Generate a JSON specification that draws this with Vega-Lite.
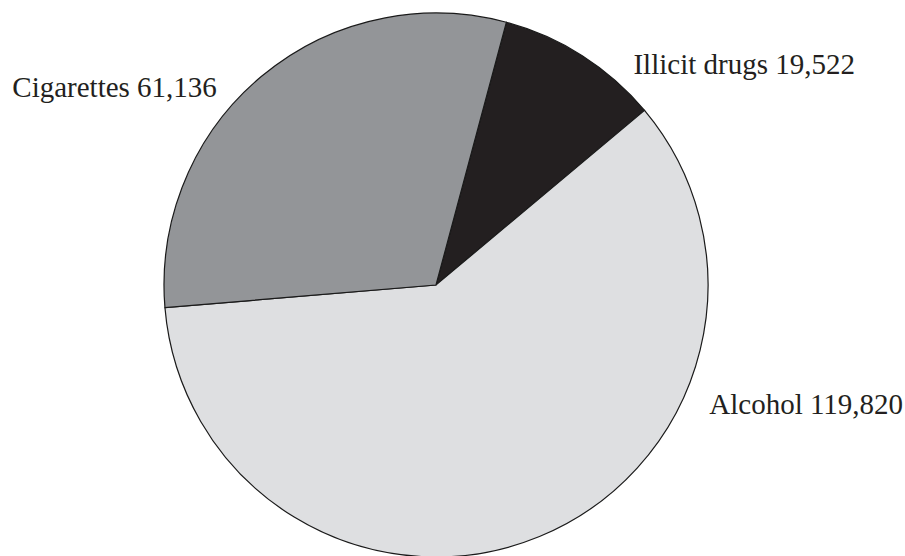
{
  "$schema": "https://vega.github.io/schema/vega-lite/v6.json",
  "width": 872,
  "height": 542,
  "autosize": {"type": "none"},
  "padding": {"left": 0, "top": 14, "right": 33, "bottom": 0},
  "background": "white",
  "config": {"view": {"stroke": null}},
  "data": {
    "values": [
      {"category": "Illicit drugs", "value": 19522, "order": 1, "label": "Illicit drugs 19,522"},
      {"category": "Alcohol", "value": 119820, "order": 2, "label": "Alcohol 119,820"},
      {"category": "Cigarettes", "value": 61136, "order": 3, "label": "Cigarettes 61,136"}
    ]
  },
  "encoding": {
    "theta": {"field": "value", "type": "quantitative", "stack": true, "scale": {"range": [0.2618, 6.545]}},
    "order": {"field": "order", "type": "quantitative"}
  },
  "layer": [
    {
      "mark": {"type": "arc", "outerRadius": 272, "stroke": "#1a1a1a", "strokeWidth": 1.2},
      "encoding": {
        "color": {
          "field": "category",
          "type": "nominal",
          "scale": {"domain": ["Illicit drugs", "Alcohol", "Cigarettes"], "range": ["#231f20", "#dedfe1", "#939598"]},
          "legend": null
        }
      }
    },
    {
      "mark": {"type": "text", "radius": 250, "align": "left", "baseline": "alphabetic", "dx": 63, "dy": 0, "font": "Liberation Serif", "fontSize": 29, "color": "#231f20"},
      "encoding": {
        "text": {"condition": {"test": "datum.category === 'Illicit drugs'", "field": "label"}, "value": ""}
      }
    },
    {
      "mark": {"type": "text", "radius": 245, "align": "right", "baseline": "alphabetic", "dx": -62, "dy": 0, "font": "Liberation Serif", "fontSize": 29, "color": "#231f20"},
      "encoding": {
        "text": {"condition": {"test": "datum.category === 'Cigarettes'", "field": "label"}, "value": ""}
      }
    },
    {
      "mark": {"type": "text", "radius": 140, "align": "left", "baseline": "alphabetic", "dx": 220, "dy": 0, "font": "Liberation Serif", "fontSize": 29, "color": "#231f20"},
      "encoding": {
        "text": {"condition": {"test": "datum.category === 'Alcohol'", "field": "label"}, "value": ""}
      }
    }
  ]
}
